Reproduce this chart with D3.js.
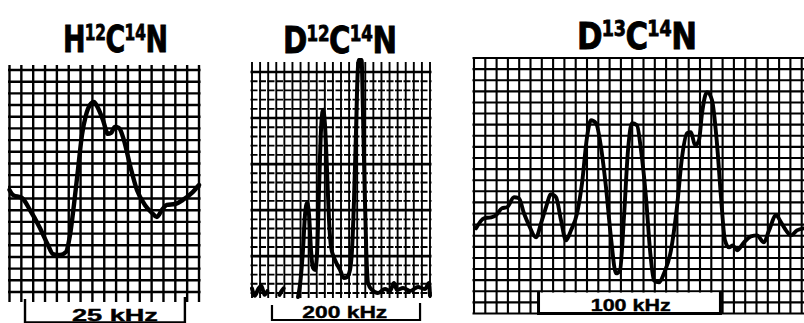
<!DOCTYPE html>
<html><head><meta charset="utf-8">
<script src="https://cdn.jsdelivr.net/npm/d3@7/dist/d3.min.js"></script>
<style>body{margin:0;background:#fff}svg{display:block}</style>
</head><body>
<svg id="c" width="804" height="323"></svg>
<script>
// ---- data (chart-paper grid units: x = columns, y = rows from bottom) ----
const titleParts = [
  ["H","12","C","14","N"],
  ["D","12","C","14","N"],
  ["D","13","C","14","N"]
];
const spanLabels = ["25 kHz", "200 kHz", "100 kHz"];
const spanStart = [1.31, 2.47, 5.71];
const spanEnd   = [14.81, 20.77, 21.81];
const labelCenter = [8.9, 11.47, 13.87];

// H12C14N trace
const hcnX = [0.0,0.3,1.05,1.73,2.57,3.25,3.67,4.26,4.77,5.11,5.44,5.78,6.12,6.46,6.79,7.13,7.47,7.89,8.31,8.57,8.90,9.24,9.66,10.17,10.76,11.43,12.03,12.45,12.87,13.29,13.97,14.64,15.40,16.0];
const hcnY = [8.73,8.30,8.05,7.02,5.48,4.02,3.25,3.17,3.42,4.88,7.45,10.45,13.44,15.15,16.01,16.27,15.75,14.73,13.53,13.61,14.13,14.04,13.01,10.87,8.73,7.45,6.76,6.42,7.02,7.45,7.53,7.88,8.48,9.16];

// D12C14N trace (null = pen lifted)
const dcnX = [0.0,0.35,0.75,1.15,1.55,1.9,2.0,3.4,3.65,3.9,4.0,5.69,5.93,6.30,6.55,6.80,7.05,7.29,7.54,7.79,8.03,8.28,8.53,8.78,9.02,9.27,9.52,9.77,10.26,10.88,11.37,11.74,12.11,12.36,12.61,12.86,13.05,13.20,13.55,13.68,13.90,14.12,14.34,14.83,15.57,16.44,17.06,17.55,17.92,18.67,19.53,20.52,21.38,21.88,22.0];
const dcnY = [0.5,-0.3,0.4,0.8,-0.2,0.2,null,-0.2,0.2,0.5,null,-0.43,0.87,4.67,8.48,9.78,8.48,4.67,2.72,2.50,4.13,11.20,17.72,19.89,18.26,13.37,7.93,5.00,3.59,2.50,1.63,1.74,2.50,4.67,10.11,17.72,23.70,25.3,25.3,21.0,12.28,4.67,1.09,0.33,0,0.43,0.22,1.09,0.33,0.54,0.22,0.65,0.43,1.09,-0.3];

// D13C14N trace
const d13X = [0.18,0.88,1.50,1.95,2.48,2.92,3.54,3.98,4.42,4.87,5.49,5.93,6.37,6.81,7.26,7.70,8.14,8.58,9.12,9.56,10.00,10.35,10.80,11.24,11.68,12.12,12.57,12.92,13.27,13.63,13.98,14.42,14.78,15.22,15.58,15.93,16.37,16.81,17.43,17.96,18.41,18.85,19.20,19.56,19.91,20.18,20.62,21.06,21.50,21.86,22.21,22.57,22.92,23.27,23.89,24.51,25.04,25.66,26.11,26.73,27.17,27.61,28.05,28.58,29.20];
const d13Y = [7.66,8.57,8.66,8.84,9.47,9.56,10.46,10.37,9.02,7.94,6.85,8.12,9.56,10.73,10.46,8.39,6.58,7.48,9.02,11.72,15.87,17.40,17.13,14.97,11.36,6.85,3.61,3.88,8.66,14.70,17.13,16.95,14.70,10.46,5.68,2.98,2.80,3.61,5.68,9.56,14.07,16.23,16.32,15.15,15.60,18.03,19.93,19.21,15.33,10.46,6.58,5.95,6.13,5.68,6.40,6.94,7.03,6.40,7.48,8.84,8.21,7.48,7.03,7.48,7.66];

const traces = [[hcnX,hcnY],[dcnX,dcnY],[d13X,d13Y]];

// ---- layout ----
const layouts = [
  {x0:9.5, x1:199, cols:16, yTop:70, yBot:292, rows:19, stubTop:5, stubBot:10, gridW:2.4, curveW:4.4,
   title:{left:63, width:105, base:52}, kind:"bracketLow", label:{base:320.5, width:86}},
  {x0:252, x1:430, cols:22, yTop:72, yBot:293, rows:24, stubTop:10, stubBot:5, gridW:1.9, major:5, dashMinor:true, curveW:4,
   title:{left:283, width:114, base:53}, kind:"bracket", label:{base:318, width:85}},
  {x0:474, x1:813, cols:30, yTop:58, yBot:313.5, rows:23, stubTop:0, stubBot:0, gridW:2.1, curveW:3.9,
   title:{left:577, width:120, base:48.5}, kind:"box", label:{base:311, width:80}}
];

const svg = d3.select("#c");
svg.append("rect").attr("width",804).attr("height",323).attr("fill","#fff");

layouts.forEach((L,i)=>{
  const x = d3.scaleLinear().domain([0,L.cols]).range([L.x0,L.x1]);
  const y = d3.scaleLinear().domain([0,L.rows]).range([L.yBot,L.yTop]);
  const g = svg.append("g");
  const isMajor = d => L.major && ((L.rows - d) % L.major === 0);

  // vertical grid
  g.selectAll("line.v").data(d3.range(L.cols+1)).join("line").attr("class","v")
    .attr("x1",d=>x(d)).attr("x2",d=>x(d))
    .attr("y1",L.yTop-L.stubTop).attr("y2",L.yBot+L.stubBot)
    .attr("stroke","#000").attr("stroke-width",L.gridW);
  // horizontal grid
  g.selectAll("line.h").data(d3.range(L.rows+1)).join("line").attr("class","h")
    .attr("x1",L.x0-1.5).attr("x2",L.x1+1.5)
    .attr("y1",d=>y(d)).attr("y2",d=>y(d))
    .attr("stroke","#000")
    .attr("stroke-width",d=> isMajor(d) ? L.gridW+0.7 : L.gridW)
    .attr("stroke-dasharray",d=> (L.dashMinor && !isMajor(d)) ? "7,1.5" : null);

  const xs = x(spanStart[i]), xe = x(spanEnd[i]);
  if (L.kind === "bracketLow") {
    g.append("path").attr("d",`M${xs},${L.yBot+7}V322.5H${xe}V${L.yBot+5}`)
      .attr("fill","none").attr("stroke","#000").attr("stroke-width",2.4);
  } else if (L.kind === "bracket") {
    g.append("path").attr("d",`M${xs},${L.yBot+12}V320H${xe}V${L.yBot+10}`)
      .attr("fill","none").attr("stroke","#000").attr("stroke-width",2.2);
  } else {
    g.append("rect").attr("x",xs).attr("y",y(2)+1.3).attr("width",xe-xs).attr("height",y(0)-y(2)-1.3)
      .attr("fill","#fff");
    g.append("path").attr("d",`M${xs},${y(2)}V${y(0)}H${xe}V${y(2)}`)
      .attr("fill","none").attr("stroke","#000").attr("stroke-width",3);
  }

  // bracket label
  g.append("text").attr("x",x(labelCenter[i])).attr("y",L.label.base)
    .attr("text-anchor","middle")
    .attr("font-family","'Liberation Sans','Arial',sans-serif").attr("font-weight","bold")
    .attr("font-size",17).attr("textLength",L.label.width).attr("lengthAdjust","spacingAndGlyphs")
    .attr("stroke","#000").attr("stroke-width",0.4)
    .text(spanLabels[i]);

  // trace
  const [tx,ty] = traces[i];
  const pts = tx.map((v,k)=>({x:v,y:ty[k]}));
  const line = d3.line().defined(d=>d.y!==null).x(d=>x(d.x)).y(d=>y(d.y)).curve(d3.curveMonotoneX);
  g.append("path").attr("d",line(pts)).attr("fill","none").attr("stroke","#000")
    .attr("stroke-width",L.curveW).attr("stroke-linejoin","round").attr("stroke-linecap","round");

  // title
  const T = L.title;
  const t = svg.append("text").attr("x",0).attr("y",0)
    .attr("font-family","'Liberation Sans Narrow','DejaVu Sans Condensed','Liberation Sans',sans-serif")
    .attr("font-weight","bold").attr("font-size",37)
    .attr("stroke","#000").attr("stroke-width",0.8);
  const parts = titleParts[i];
  parts.forEach((p,k)=>{
    const sup = k%2===1;
    t.append("tspan").attr("font-size",sup?21:37)
      .attr("dy", k===0 ? 0 : (sup ? -12.5 : 12.5))
      .attr("dx", sup ? -1 : -0.5)
      .text(p);
  });
  const bb = t.node().getBBox();
  const s = T.width/bb.width;
  t.attr("transform",`translate(${T.left - bb.x*s},${T.base}) scale(${s},1)`);
});
</script>
</body></html>
